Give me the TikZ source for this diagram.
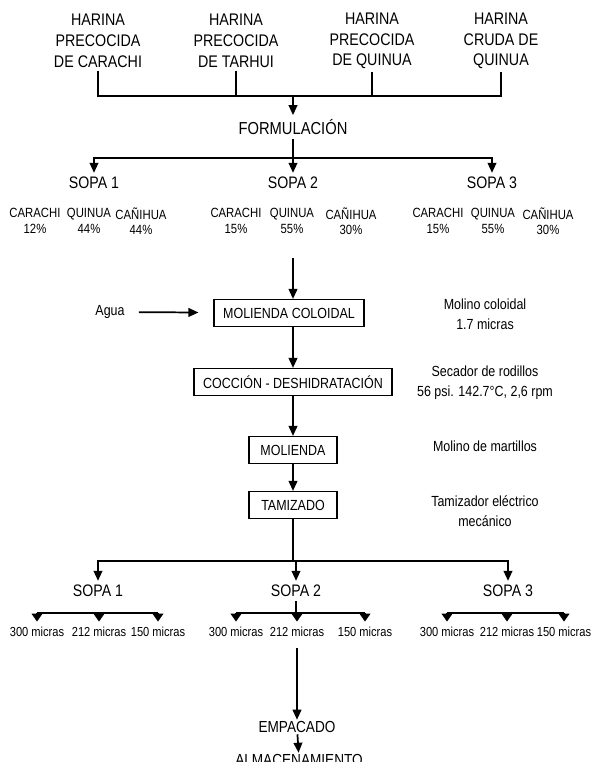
\documentclass[tikz,border=0pt]{standalone}
\usepackage{fontspec}
\setmainfont[FakeStretch=0.85]{Liberation Sans}
\usetikzlibrary{arrows.meta, positioning}

\begin{document}
\begin{tikzpicture}[x=0.75pt, y=-0.75pt,
		hdr/.style={align=center, inner sep=2pt, font=\fontsize{12.6}{15.6}\selectfont},
		txt/.style={align=center, inner sep=2.5pt, font=\fontsize{11}{15}\selectfont},
		big/.style={inner sep=3pt, font=\fontsize{12.5}{15}\selectfont},
		comp/.style={align=center, inner sep=1pt, font=\fontsize{10}{11.5}\selectfont},
		mic/.style={inner sep=1.5pt, font=\fontsize{9.8}{12}\selectfont},
		procbox/.style={draw, line width=1.1pt, minimum height=20pt, inner xsep=7pt, font=\fontsize{11}{13}\selectfont},
		ln/.style={line width=1.3pt},
		arr/.style={-{Triangle[length=7.5pt,width=6.5pt]}, line width=1.3pt},
		sarr/.style={-{Triangle[length=6pt,width=8pt]}, line width=1.3pt, shorten >=2.5pt}
	]
	\useasboundingbox (0,0) rectangle (599,762);

	% harinas
	\node[hdr] (hcar) at (98,41) {HARINA\\PRECOCIDA\\DE CARACHI};
	\node[hdr] (htar) at (236,41) {HARINA\\PRECOCIDA\\DE TARHUI};
	\node[hdr] (hqui) at (372,41) {HARINA\\PRECOCIDA\\DE QUINUA};
	\node[hdr] (hcru) at (501,41) {HARINA\\CRUDA DE\\QUINUA};
	\coordinate (b1) at (293,96);
	\draw[ln] (hcar.south) -- (hcar.south |- b1) -- (hcru.south |- b1) -- (hcru.south);
	\draw[ln] (htar.south) -- (htar.south |- b1);
	\draw[ln] (hqui.south) -- (hqui.south |- b1);

	\node[big, font=\fontsize{13}{15}\selectfont] (form) at (293,127) {FORMULACIÓN};
	\draw[arr] (b1) -- (form);

	% sopas
	\coordinate (b2) at (293,158);
	\node[big] (ts1) at (94,183) {SOPA 1};
	\node[big] (ts2) at (293,183) {SOPA 2};
	\node[big] (ts3) at (492,183) {SOPA 3};
	\draw[ln] (form) -- (b2);
	\draw[arr] (b2) -| (ts1);
	\draw[arr] (b2) -- (ts2);
	\draw[arr] (b2) -| (ts3);

	\node[comp] (c1a) at (35,221) {CARACHI\\12\%};
	\node[comp] (c1b) at (89,221) {QUINUA\\44\%};
	\node[comp] (c1c) at (141,221) {CAÑIHUA\\44\%};
	\node[comp] (c2a) at (236,221) {CARACHI\\15\%};
	\node[comp] (c2b) at (292,221) {QUINUA\\55\%};
	\node[comp] (c2c) at (351,221) {CAÑIHUA\\30\%};
	\node[comp] (c3a) at (438,221) {CARACHI\\15\%};
	\node[comp] (c3b) at (493,221) {QUINUA\\55\%};
	\node[comp] (c3c) at (548,221) {CAÑIHUA\\30\%};

	% proceso
	\coordinate (m0) at (293,258);
	\node[procbox] (molcol) at (289,313) {MOLIENDA COLOIDAL};
	\node[txt] (agua) at (110,312) {Agua};
	\node[procbox] (coccion) at (293,382) {COCCIÓN - DESHIDRATACIÓN};
	\node[procbox, minimum width=66pt] (mol) at (293,450) {MOLIENDA};
	\node[procbox, minimum width=66pt] (tam) at (293,505) {TAMIZADO};
	\draw[arr] (m0) -- (m0 |- molcol.north);
	\draw[arr, shorten <=8pt, shorten >=11pt] (agua) -- (molcol);
	\draw[arr] (molcol.south -| m0) -- (coccion);
	\draw[arr] (coccion) -- (mol);
	\draw[arr] (mol) -- (tam);

	\node[txt] (ncol) at (485,314) {Molino coloidal\\1.7 micras};
	\node[txt] (nsec) at (485,383) {Secador de rodillos\\56 psi. 142.7°C, 2,6 rpm};
	\node[txt] (nmar) at (485,446) {Molino de martillos};
	\node[txt] (ntam) at (485,511) {Tamizador eléctrico\\mecánico};

	% tamizado
	\coordinate (b3) at (293,561);
	\node[big] (bs1) at (98,591) {SOPA 1};
	\node[big] (bs2) at (296,591) {SOPA 2};
	\node[big] (bs3) at (508,591) {SOPA 3};
	\draw[ln] (tam) -- (b3);
	\draw[arr] (b3) -| (bs1);
	\draw[arr] (b3) -| (bs2);
	\draw[arr] (b3) -| (bs3);

	\coordinate (sb) at (296,613);
	\node[mic] (m1a) at (37,632) {300 micras};
	\node[mic] (m1b) at (99,632) {212 micras};
	\node[mic] (m1c) at (158,632) {150 micras};
	\node[mic] (m2a) at (236,632) {300 micras};
	\node[mic] (m2b) at (297,632) {212 micras};
	\node[mic] (m2c) at (365,632) {150 micras};
	\node[mic] (m3a) at (447,632) {300 micras};
	\node[mic] (m3b) at (507,632) {212 micras};
	\node[mic] (m3c) at (564,632) {150 micras};
	\draw[ln] (bs2) -- (sb);
	\draw[ln] (m1a |- sb) -- (m1c |- sb);
	\draw[ln] (m2a |- sb) -- (m2c |- sb);
	\draw[ln] (m3a |- sb) -- (m3c |- sb);
	\draw[sarr] (m1a |- sb) -- (m1a);
	\draw[sarr] (m1b |- sb) -- (m1b);
	\draw[sarr] (m1c |- sb) -- (m1c);
	\draw[sarr] (m2a |- sb) -- (m2a);
	\draw[sarr] (m2b |- sb) -- (m2b);
	\draw[sarr] (m2c |- sb) -- (m2c);
	\draw[sarr] (m3a |- sb) -- (m3a);
	\draw[sarr] (m3b |- sb) -- (m3b);
	\draw[sarr] (m3c |- sb) -- (m3c);

	% final
	\coordinate (e0) at (297,648);
	\node[big, inner sep=1pt, font=\fontsize{12}{14}\selectfont] (emp) at (297,727) {EMPACADO};
	\node[big, inner sep=1pt, font=\fontsize{12}{14}\selectfont] (alm) at (299,760) {ALMACENAMIENTO};
	\draw[arr] (e0) -- (emp);
	\draw[arr] (emp) -- (alm);
\end{tikzpicture}
\end{document}
